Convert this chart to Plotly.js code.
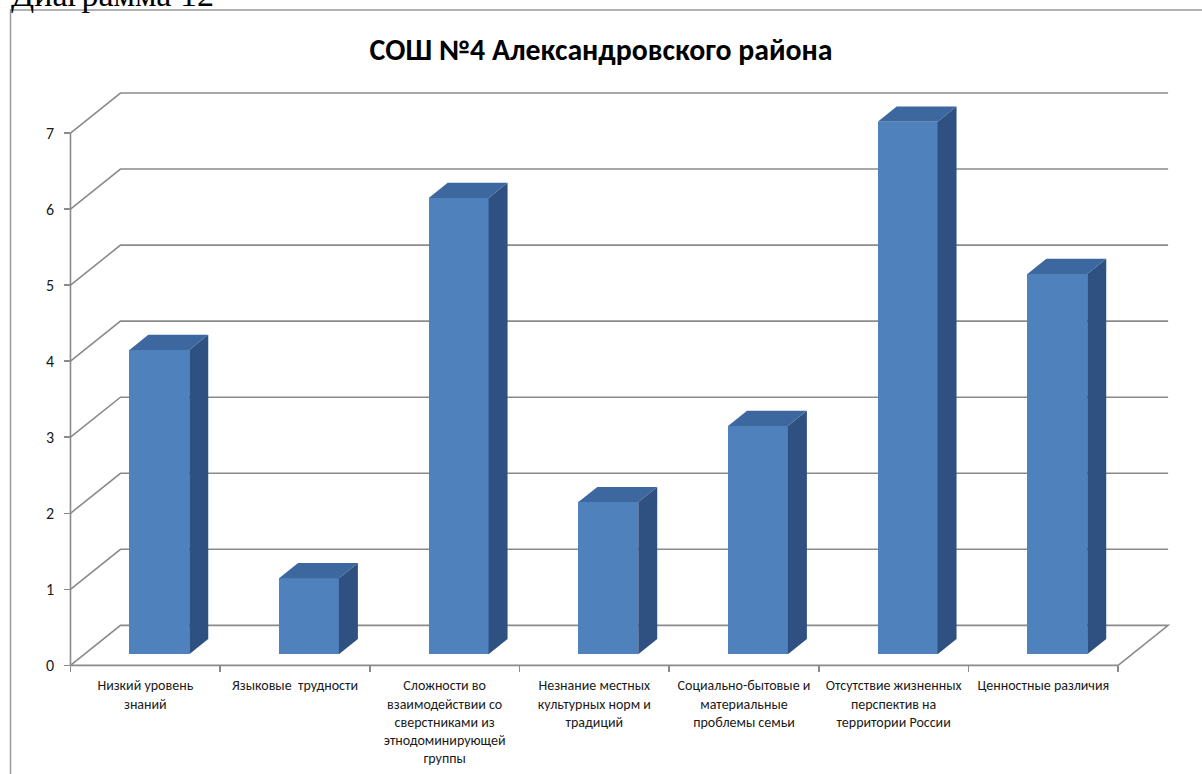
<!DOCTYPE html>
<html>
<head>
<meta charset="utf-8">
<script src="https://cdn.plot.ly/plotly-3.0.1.min.js"></script>
<style>
  html, body { margin: 0; padding: 0; background: #ffffff; }
  #chart { width: 1202px; height: 774px; }
</style>
</head>
<body>
<div id="chart"></div>
<script>
// ---- data ----
const categories = [
  "Низкий уровень<br>знаний",
  "Языковые  трудности",
  "Сложности во<br>взаимодействии со<br>сверстниками из<br>этнодоминирующей<br>группы",
  "Незнание местных<br>культурных норм и<br>традиций",
  "Социально-бытовые и<br>материальные<br>проблемы семьи",
  "Отсутствие жизненных<br>перспектив на<br>территории России",
  "Ценностные различия"
];
const values = [4, 1, 6, 2, 3, 7, 5];
const yTicks = [0, 1, 2, 3, 4, 5, 6, 7];
const titleText = "СОШ №4 Александровского района";
const captionText = "Диаграмма 12";

// ---- layout geometry (pixels) ----
const W = 1202, H = 774;
const pxPerX = 1048 / categories.length;   // category band width
const pxPerY = 76;                           // pixels per unit value
const xMin = -0.55, xMax = 6.9, yMin = -0.1, yMax = 7.8947;
const marginL = 70 + (xMin + 0.5) * pxPerX;
const plotW = (xMax - xMin) * pxPerX;
const marginR = W - marginL - plotW;
const marginT = 65;
const plotH = (yMax - yMin) * pxPerY;
const marginB = H - marginT - plotH;

// pseudo-3D wall depth expressed in axis units
const wallDX = 50 / pxPerX;
const wallDY = 40 / pxPerY;
const barFront = 0.28, barBack = 0.66, barWidth = 0.40;
const fx = barFront * wallDX, fy = barFront * wallDY;
const ddx = (barBack - barFront) * wallDX, ddy = (barBack - barFront) * wallDY;

const n = categories.length;
const idx = categories.map((_, i) => i);
const left = -0.5, right = n - 0.5;

const gridColor = "#8a8a8a";
const frontColor = "#4f81bd";
const sideColor = "#2f5181";
const topColor = "#3d679f";

// ---- traces ----
const traces = [];
traces.push({
  type: "bar",
  x: idx.map(i => i + fx),
  y: values,
  base: values.map(() => fy),
  width: barWidth,
  marker: { color: frontColor, line: { width: 0 } },
  hoverinfo: "skip",
  showlegend: false
});
values.forEach((v, i) => {
  const xl = i + fx - barWidth / 2, xr = i + fx + barWidth / 2;
  const yb = fy, yt = fy + v;
  traces.push({
    type: "scatter", mode: "lines", fill: "toself",
    x: [xr, xr + ddx, xr + ddx, xr, xr],
    y: [yb, yb + ddy, yt + ddy, yt, yb],
    fillcolor: sideColor, line: { width: 0, color: sideColor },
    hoverinfo: "skip", showlegend: false
  });
  traces.push({
    type: "scatter", mode: "lines", fill: "toself",
    x: [xl, xl + ddx, xr + ddx, xr, xl],
    y: [yt, yt + ddy, yt + ddy, yt, yt],
    fillcolor: topColor, line: { width: 0, color: topColor },
    hoverinfo: "skip", showlegend: false
  });
});

// ---- shapes: back-wall gridlines, floor, axis lines, frame ----
const shapes = [];
yTicks.forEach(k => {
  let p = `M ${left},${k} L ${left + wallDX},${k + wallDY} L ${right + wallDX},${k + wallDY}`;
  if (k === 0) p += ` L ${right},${k}`;
  shapes.push({ type: "path", xref: "x", yref: "y", path: p, layer: "below",
    line: { color: gridColor, width: 1.6 } });
});
shapes.push({ type: "line", xref: "x", yref: "y", x0: left, x1: right, y0: 0, y1: 0,
  layer: "below", line: { color: gridColor, width: 1.6 } });
shapes.push({ type: "line", xref: "x", yref: "y", x0: left, x1: left, y0: 0, y1: yTicks[yTicks.length - 1],
  layer: "below", line: { color: gridColor, width: 1.6 } });
// outer chart frame
const px2paperX = px => (px - marginL) / plotW;
const px2paperY = py => (H - marginB - py) / plotH;
shapes.push({ type: "rect", xref: "paper", yref: "paper",
  x0: px2paperX(10), x1: px2paperX(W + 20), y0: px2paperY(10), y1: px2paperY(H + 20),
  layer: "below", line: { color: "#9a9a9a", width: 1.5 }, fillcolor: "rgba(0,0,0,0)" });

const font = "Carlito, Lato, 'Liberation Sans', sans-serif";
const titleFont = "Carlito, 'Open Sans', Lato, sans-serif";

const layout = {
  width: W, height: H,
  margin: { l: marginL, r: marginR, t: marginT, b: marginB, pad: 0 },
  paper_bgcolor: "#ffffff", plot_bgcolor: "rgba(0,0,0,0)",
  showlegend: false,
  bargap: 0,
  title: {
    text: "<b>" + titleText + "</b>",
    x: 0.5, xref: "container", xanchor: "center",
    y: 1 - 50 / H, yref: "container", yanchor: "middle",
    font: { family: titleFont, size: 29.8, color: "#000000" }
  },
  xaxis: {
    range: [xMin, xMax],
    anchor: "free", position: (0 - yMin) / (yMax - yMin),
    tickmode: "array", tickvals: idx, ticktext: categories,
    ticks: "", showgrid: false, zeroline: false, showline: false,
    tickfont: { family: font, size: 14, color: "#1a1a1a" },
    ticklabelstandoff: 10,
    minor: { tickmode: "array", tickvals: [...idx.map(i => i - 0.5), right],
      ticks: "outside", ticklen: 6, tickcolor: gridColor, tickwidth: 1.5, showgrid: false },
    fixedrange: true
  },
  yaxis: {
    range: [yMin, yMax],
    anchor: "free", position: (left - xMin) / (xMax - xMin),
    tickmode: "array", tickvals: yTicks, ticktext: yTicks.map(v => String(v) + "\u00a0\u00a0"),
    ticks: "outside", ticklen: 6, tickcolor: gridColor, tickwidth: 1.5,
    showgrid: false, zeroline: false, showline: false,
    tickfont: { family: font, size: 16, color: "#1a1a1a" },
    ticklabelstandoff: 0,
    fixedrange: true
  },
  shapes: shapes,
  annotations: [{
    text: captionText, xref: "paper", yref: "paper",
    x: px2paperX(8), y: px2paperY(15), xanchor: "left", yanchor: "bottom",
    showarrow: false, font: { family: "'Liberation Serif', 'DejaVu Serif', serif", size: 34, color: "#000" }
  }]
};

Plotly.newPlot("chart", traces, layout, { staticPlot: true, displayModeBar: false });
</script>
</body>
</html>
